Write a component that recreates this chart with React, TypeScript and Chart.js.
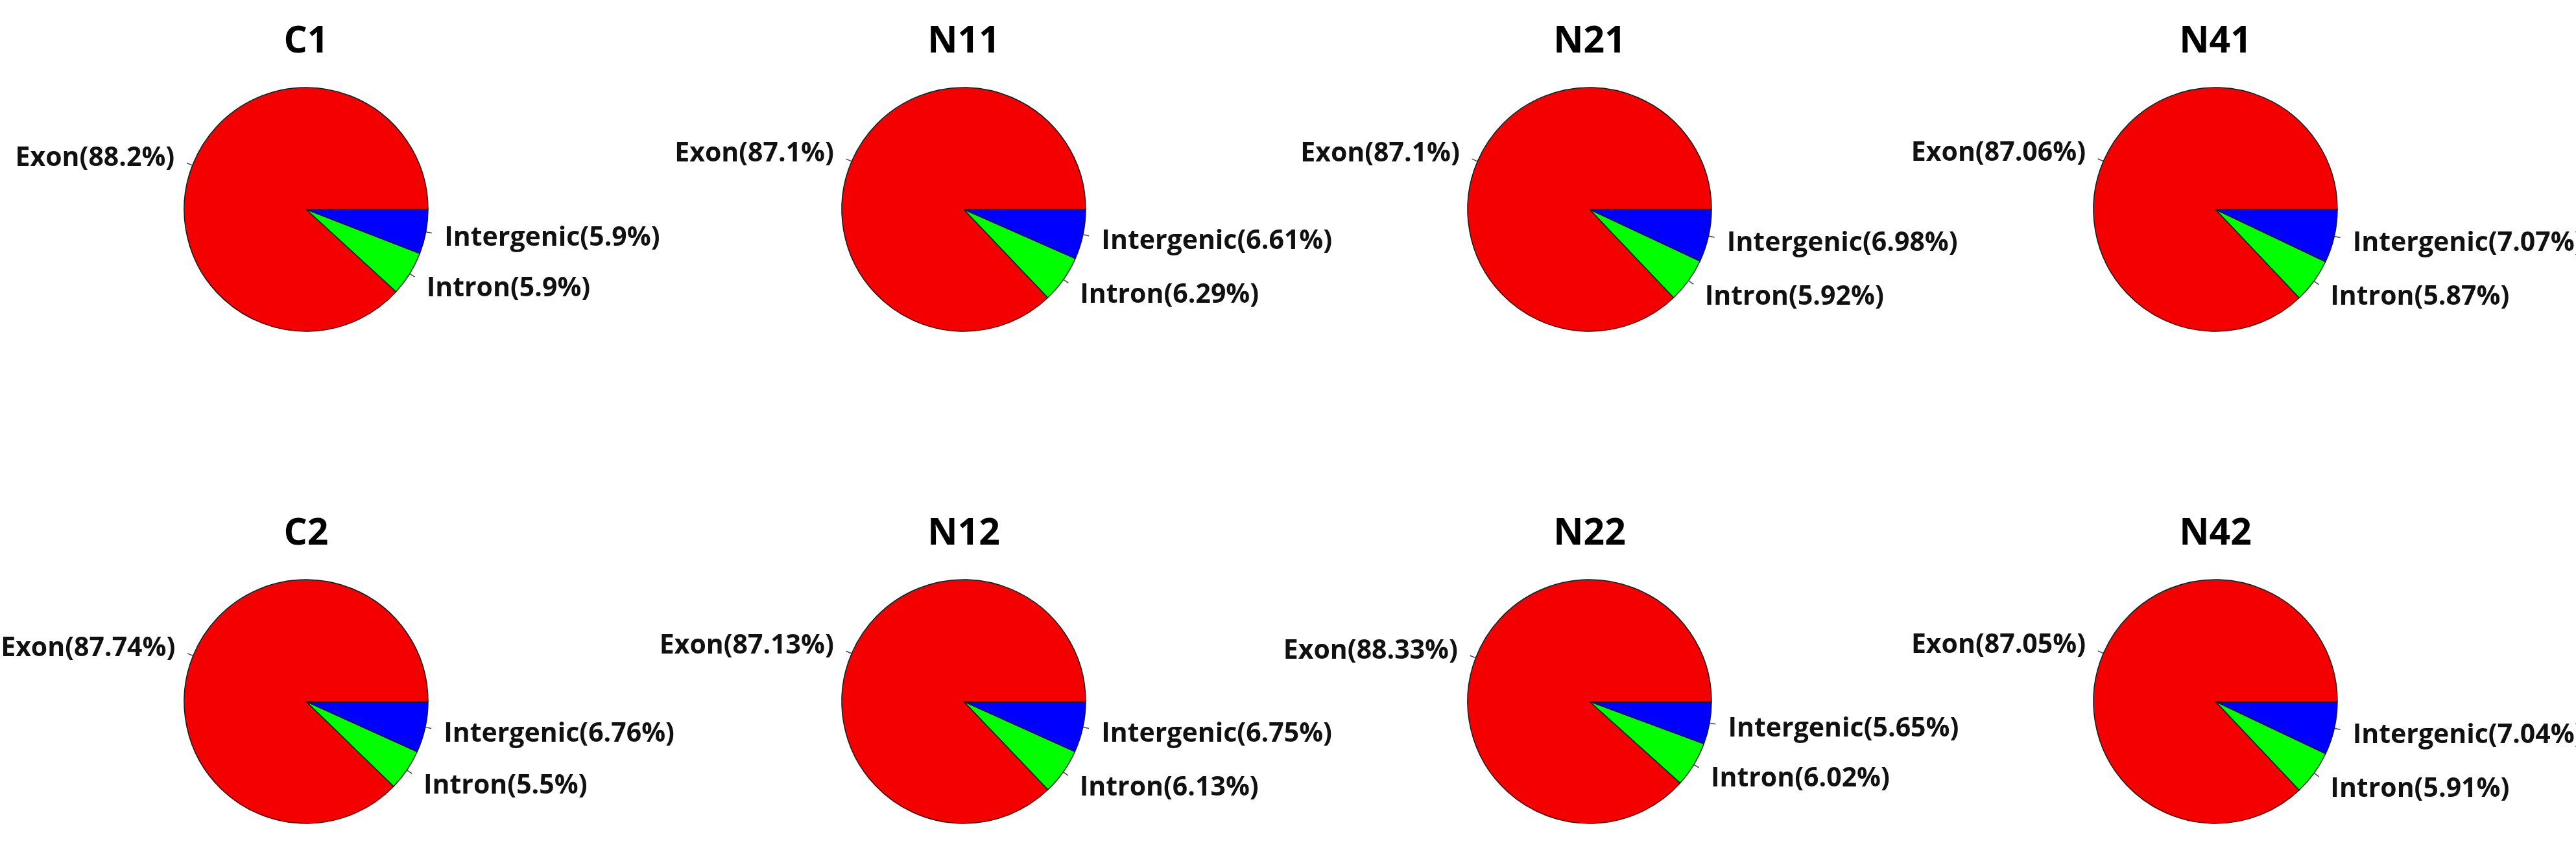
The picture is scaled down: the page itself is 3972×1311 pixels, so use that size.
import React, { useEffect, useRef } from "react";
import { Chart, registerables } from "chart.js";

Chart.register(...registerables);

// ---- data ----
const categories = ["Intergenic", "Intron", "Exon"];
const sampleNames = ["C1", "N11", "N21", "N41", "C2", "N12", "N22", "N42"];
const intergenicValues = [5.9, 6.61, 6.98, 7.07, 6.76, 6.75, 5.65, 7.04];
const intronValues = [5.9, 6.29, 5.92, 5.87, 5.5, 6.13, 6.02, 5.91];
const exonValues = [88.2, 87.1, 87.1, 87.06, 87.74, 87.13, 88.33, 87.05];
const sliceColors = ["#0000FF", "#00FF00", "#F40000"];

// ---- layout ----
const PAGE_W = 3972;
const PAGE_H = 1311;
const PANEL_W = 1200;
const PANEL_H = 600;
const PIE_RADIUS = 188;
const COL_CENTERS = [472, 1486, 2451, 3416];
const ROW_CENTERS = [323, 1082];
const LABEL_FONT_SIZE = 41;
const TITLE_FONT_SIZE = 57;
const CAP = 0.357; // half cap-height ratio for Open Sans

const sliceLabelPlugin = {
  id: "sliceLabels",
  afterDatasetsDraw(chart: any, _args: any, opts: any) {
    const ctx = chart.ctx as CanvasRenderingContext2D;
    const meta = chart.getDatasetMeta(0);
    const ds = chart.data.datasets[0];
    const labels = chart.data.labels as string[];
    ctx.save();
    ctx.fillStyle = "#111111";
    ctx.strokeStyle = "#444444";
    ctx.lineWidth = 1.5;
    ctx.font = `bold ${LABEL_FONT_SIZE}px "Open Sans"`;
    ctx.textBaseline = "alphabetic";
    meta.data.forEach((arc: any, i: number) => {
      const p = arc.getProps(["x", "y", "startAngle", "endAngle", "outerRadius"], true);
      const mid = (p.startAngle + p.endAngle) / 2;
      const c = Math.cos(mid);
      const s = Math.sin(mid);
      const r = p.outerRadius;
      ctx.beginPath();
      ctx.moveTo(p.x + c * r, p.y + s * r);
      ctx.lineTo(p.x + c * r * 1.05, p.y + s * r * 1.05);
      ctx.stroke();
      const gap = 10;
      const tx = p.x + c * r * 1.1 + (c >= 0 ? gap : -gap);
      const ty = p.y + s * r * 1.2;
      ctx.textAlign = c >= 0 ? "left" : "right";
      ctx.fillText(`${labels[i]}(${ds.data[i]}%)`, tx, ty + CAP * LABEL_FONT_SIZE);
    });
    const a0 = meta.data[0].getProps(["x", "y", "outerRadius"], true);
    ctx.font = `bold ${TITLE_FONT_SIZE}px "Open Sans"`;
    ctx.textAlign = "center";
    ctx.fillStyle = "#000000";
    ctx.fillText(opts.title, a0.x, a0.y - a0.outerRadius * 1.394 + CAP * TITLE_FONT_SIZE);
    ctx.restore();
  },
};

function PiePanel({ index }: { index: number }) {
  const ref = useRef<HTMLCanvasElement>(null);
  useEffect(() => {
    const chart = new Chart(ref.current as HTMLCanvasElement, {
      type: "pie",
      data: {
        labels: categories,
        datasets: [
          {
            data: [intergenicValues[index], intronValues[index], exonValues[index]],
            backgroundColor: sliceColors,
            borderColor: "#1a1a1a",
            borderWidth: 1.5,
          },
        ],
      },
      options: {
        responsive: false,
        animation: false,
        devicePixelRatio: 1,
        rotation: 90,
        radius: PIE_RADIUS,
        events: [],
        layout: { padding: 0 },
        plugins: {
          legend: { display: false },
          tooltip: { enabled: false },
          sliceLabels: { title: sampleNames[index] },
        } as any,
      } as any,
      plugins: [sliceLabelPlugin as any],
    });
    return () => chart.destroy();
  }, [index]);
  const col = index % 4;
  const row = Math.floor(index / 4);
  return (
    <canvas
      ref={ref}
      width={PANEL_W}
      height={PANEL_H}
      style={{
        position: "absolute",
        left: COL_CENTERS[col] - PANEL_W / 2,
        top: ROW_CENTERS[row] - PANEL_H / 2,
        width: PANEL_W,
        height: PANEL_H,
      }}
    />
  );
}

export default function App() {
  return (
    <div
      style={{
        position: "absolute",
        left: 0,
        top: 0,
        width: PAGE_W,
        height: PAGE_H,
        overflow: "hidden",
        background: "#ffffff",
      }}
    >
      {sampleNames.map((_, i) => (
        <PiePanel key={i} index={i} />
      ))}
    </div>
  );
}
